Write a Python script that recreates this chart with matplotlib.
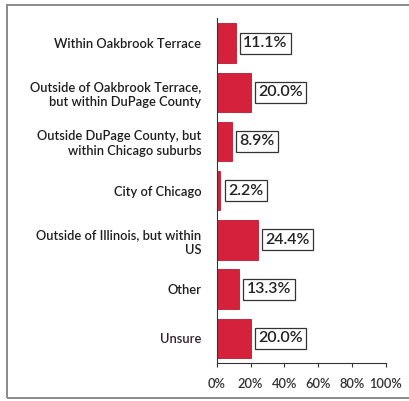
import matplotlib
matplotlib.use('Agg')
import matplotlib.pyplot as plt
from matplotlib.patches import Rectangle

# Where respondents live
categories = [
    'Within Oakbrook Terrace',
    'Outside of Oakbrook Terrace,\nbut within DuPage County',
    'Outside DuPage County, but\nwithin Chicago suburbs',
    'City of Chicago',
    'Outside of Illinois, but within\nUS',
    'Other',
    'Unsure',
]
shares = [11.1, 20.0, 8.9, 2.2, 24.4, 13.3, 20.0]
xticks = [0, 20, 40, 60, 80, 100]

plt.rcParams['font.family'] = ['Lato', 'DejaVu Sans']
plt.rcParams['font.weight'] = 'semibold'

fig = plt.figure(figsize=(4.09, 4.01), dpi=100)
ax = fig.add_axes([0.530, 0.095, 0.413, 0.859])

pos = range(len(categories))
ax.barh(pos, shares, height=0.8, color='#d5213b', edgecolor='#b81a30', linewidth=0.6)
ax.set_ylim(len(categories) - 0.5, -0.5)
ax.set_xlim(0, 100)

# boxed value labels next to each bar
for i, v in enumerate(shares):
    ax.text(v + 4.5, i, f'{v:.1f}%', va='center', ha='left', fontsize=11.5,
            color='#222222',
            bbox=dict(boxstyle='square,pad=0.22', facecolor='white',
                      edgecolor='#333333', linewidth=0.9))

ax.set_yticks(list(pos))
ax.set_yticklabels(categories, fontsize=9.3, linespacing=1.3, color='#1e1e1e')
ax.get_yticklabels()[-1].set_color('#33222e')
ax.tick_params(axis='y', length=0, pad=11)

ax.set_xticks(xticks)
ax.set_xticklabels([f'{t}%' for t in xticks], fontsize=9.3, color='#333333')
ax.tick_params(axis='x', length=3, width=0.8, color='#333333', pad=8)

for side in ['top', 'right']:
    ax.spines[side].set_visible(False)
ax.spines['left'].set_color('#333333')
ax.spines['left'].set_linewidth(0.8)
ax.spines['bottom'].set_color('#333333')
ax.spines['bottom'].set_linewidth(0.8)

# outer frame around the chart
fig.patches.append(Rectangle((6.5 / 409, 1 - 398 / 401), 1.1, (398 - 4.5) / 401,
                             transform=fig.transFigure, fill=False,
                             edgecolor='#8a8a8a', linewidth=1.4))

fig.savefig('out.png', dpi=100)
